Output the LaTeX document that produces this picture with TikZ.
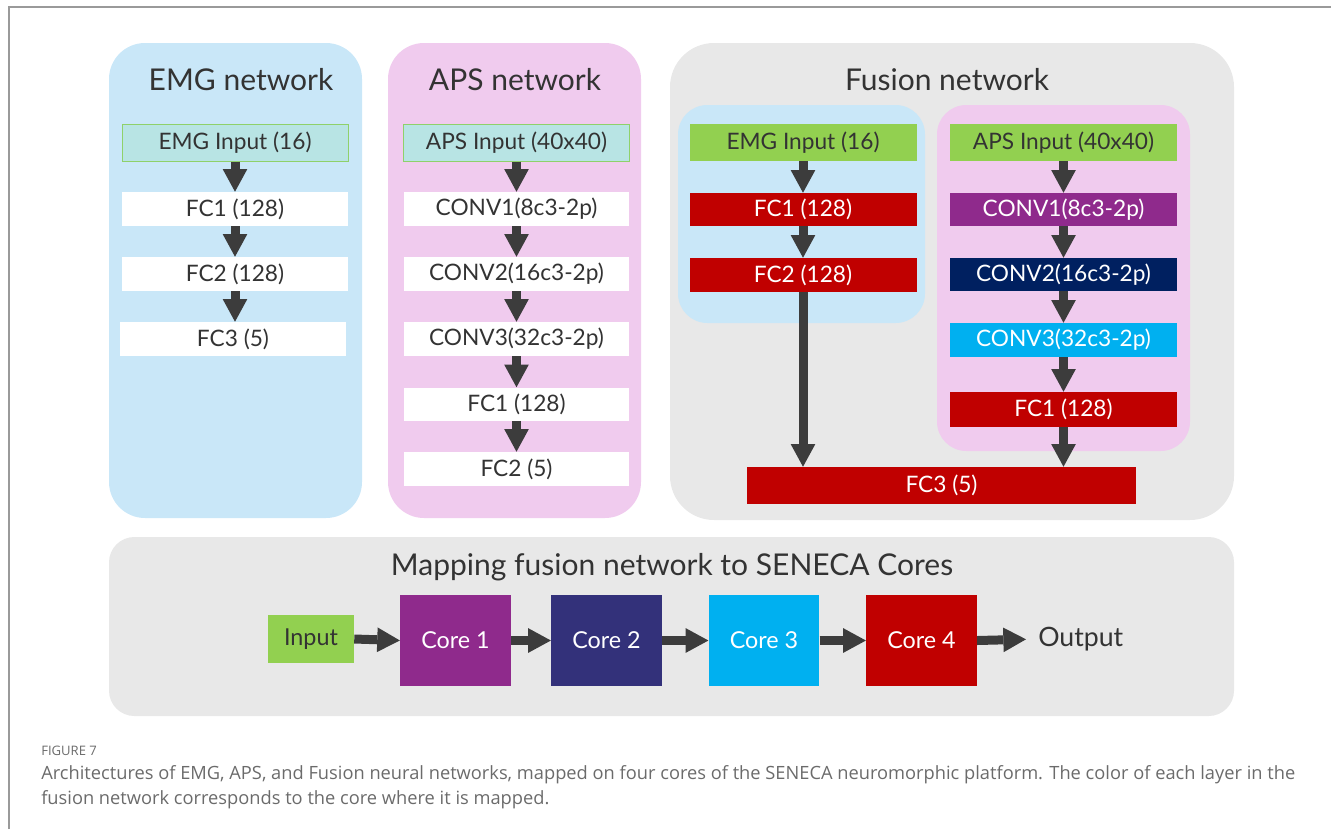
\documentclass[tikz,border=0pt]{standalone}
\usepackage{fontspec}
\setmainfont{Lato}
\newfontfamily\capfont{Open Sans}
\usetikzlibrary{arrows.meta}
\definecolor{pblue}{HTML}{C9E7F8}
\definecolor{ppink}{HTML}{F0CBEE}
\definecolor{pgray}{HTML}{E8E8E8}
\definecolor{inbox}{HTML}{B8E4E4}
\definecolor{inedge}{HTML}{8FD16A}
\definecolor{lgreen}{HTML}{92D050}
\definecolor{lred}{HTML}{C00000}
\definecolor{lpurple}{HTML}{8F2A8C}
\definecolor{lnavy}{HTML}{002060}
\definecolor{lindigo}{HTML}{33317A}
\definecolor{lcyan}{HTML}{00B0F0}
\definecolor{arr}{HTML}{3C3C3C}
\definecolor{txt}{HTML}{333333}
\definecolor{captxt}{HTML}{6B6B6B}
\definecolor{framec}{HTML}{9A9A9A}
\tikzset{
  wh/.style 2 args={minimum width=#1*0.75pt, minimum height=#2*0.75pt},
  layer/.style={rectangle, inner sep=0pt, font=\fontsize{17}{20}\selectfont, text=txt},
  plainlayer/.style={layer, fill=white},
  inlayer/.style={layer, fill=inbox, draw=inedge, line width=0.75pt},
  collayer/.style={layer, fill=#1, text=white},
  ptitle/.style={anchor=base, font=\fontsize{22.5}{27}\selectfont, text=txt, inner sep=0pt},
  corebox/.style={rectangle, inner sep=0pt, fill=#1, text=white, font=\fontsize{17.5}{20}\selectfont, minimum width=83pt, minimum height=68pt},
  barrow/.style={draw=arr, line width=6.75pt, -{Triangle[width=18.5pt,length=17pt,line width=0pt]}},
  panel/.style={fill=#1}
}
\begin{document}
\begin{tikzpicture}[x=0.75pt,y=-0.75pt]
\useasboundingbox (0,0) rectangle (1331,829);
% frame
\draw[framec, line width=1.5pt] (9,829) -- (9,7) -- (1331,7);

% panels
\fill[pblue, rounded corners=27pt] (109,43) rectangle (362,518);
\fill[ppink, rounded corners=27pt] (388,43) rectangle (641,518);
\fill[pgray, rounded corners=33pt] (670,43) rectangle (1234,520);
\fill[pblue, rounded corners=22pt] (678,105) rectangle (925,323);
\fill[ppink, rounded corners=22pt] (937,105) rectangle (1190,451);
\fill[pgray, rounded corners=19pt] (109,537) rectangle (1234,716);

% titles
\node[ptitle] (temg) at (241,90) {EMG network};
\node[ptitle] (taps) at (515,90) {APS network};
\node[ptitle] (tfus) at (947,90) {Fusion network};
\node[ptitle, font=\fontsize{22.5}{27}\selectfont] (tmap) at (672,575) {Mapping fusion network to SENECA Cores};

% EMG network
\node[inlayer, wh={226}{37}] (ein) at (235,142.5) {EMG Input (16)};
\node[plainlayer, wh={226}{34}] (efc1) at (235,209) {FC1 (128)};
\node[plainlayer, wh={226}{34}] (efc2) at (235,274) {FC2 (128)};
\node[plainlayer, wh={226}{34}] (efc3) at (233,339) {FC3 (5)};
\draw[barrow] (ein.south) -- (efc1.north);
\draw[barrow] (efc1.south) -- (efc2.north);
\draw[barrow] (efc2.south) -- (efc2.south |- efc3.north);

% APS network
\node[inlayer, wh={226}{37}] (ain) at (516.5,142.5) {APS Input (40x40)};
\node[plainlayer, wh={225}{34}] (ac1) at (516.5,209) {CONV1(8c3-2p)};
\node[plainlayer, wh={225}{34}] (ac2) at (516.5,274) {CONV2(16c3-2p)};
\node[plainlayer, wh={225}{34}] (ac3) at (516.5,339) {CONV3(32c3-2p)};
\node[plainlayer, wh={225}{33}] (afc1) at (516.5,404) {FC1 (128)};
\node[plainlayer, wh={225}{34}] (afc2) at (516.5,469) {FC2 (5)};
\draw[barrow] (ain.south) -- (ac1.north);
\draw[barrow] (ac1.south) -- (ac2.north);
\draw[barrow] (ac2.south) -- (ac3.north);
\draw[barrow] (ac3.south) -- (afc1.north);
\draw[barrow] (afc1.south) -- (afc2.north);

% Fusion network
\node[layer, fill=lgreen, wh={227}{37}] (fein) at (803,142.5) {EMG Input (16)};
\node[collayer=lred, wh={227}{33}] (ffc1) at (803,209.5) {FC1 (128)};
\node[collayer=lred, wh={227}{34}] (ffc2) at (803,275) {FC2 (128)};
\node[layer, fill=lgreen, wh={227}{37}] (fain) at (1063.5,142.5) {APS Input (40x40)};
\node[collayer=lpurple, wh={227}{33}] (fc1) at (1063.5,209.5) {CONV1(8c3-2p)};
\node[collayer=lnavy, wh={227}{33}] (fc2) at (1063.5,274.5) {CONV2(16c3-2p)};
\node[collayer=lcyan, wh={227}{34}] (fc3) at (1063.5,340) {CONV3(32c3-2p)};
\node[collayer=lred, wh={227}{35}] (ffc1b) at (1063.5,409.5) {FC1 (128)};
\node[collayer=lred, wh={389}{37}] (ffc3) at (941.5,485.5) {FC3 (5)};
\draw[barrow] (fein.south) -- (ffc1.north);
\draw[barrow] (ffc1.south) -- (ffc2.north);
\draw[barrow] (ffc2.south) -- (ffc2.south |- ffc3.north);
\draw[barrow] (fain.south) -- (fc1.north);
\draw[barrow] (fc1.south) -- (fc2.north);
\draw[barrow] (fc2.south) -- (fc3.north);
\draw[barrow] (fc3.south) -- (ffc1b.north);
\draw[barrow] (ffc1b.south) -- (ffc1b.south |- ffc3.north);

% Mapping
\node[corebox=lgreen, text=txt, minimum width=64.5pt, minimum height=36pt] (min) at (311,639) {Input};
\node[corebox=lpurple] (core1) at (455.5,640.5) {Core 1};
\node[corebox=lindigo] (core2) at (606.5,640.5) {Core 2};
\node[corebox=lcyan] (core3) at (764,640.5) {Core 3};
\node[corebox=lred] (core4) at (921.5,640.5) {Core 4};
\node[anchor=west, inner sep=0pt, text=txt, font=\fontsize{20}{23}\selectfont] (out) at (1038,639) {Output};
\draw[barrow] (min.east) -- (core1.west);
\draw[barrow] (core1.east) -- (core2.west);
\draw[barrow] (core2.east) -- (core3.west);
\draw[barrow] (core3.east) -- (core4.west);
\draw[barrow, shorten >=9pt] (core4.east) -- (out.west);

% caption
\node[anchor=base west, inner sep=0pt, text=captxt, font=\capfont\fontsize{9.8}{11}\selectfont] (figlab) at (41,755) {FIGURE 7};
\node[anchor=base west, inner sep=0pt, text=captxt, font=\capfont\fontsize{13.7}{16}\selectfont] (cap1) at (41,779) {Architectures of EMG, APS, and Fusion neural networks, mapped on four cores of the SENECA neuromorphic platform. The color of each layer in the};
\node[anchor=base west, inner sep=0pt, text=captxt, font=\capfont\fontsize{13.7}{16}\selectfont] (cap2) at (41,804) {fusion network corresponds to the core where it is mapped.};
\end{tikzpicture}
\end{document}
